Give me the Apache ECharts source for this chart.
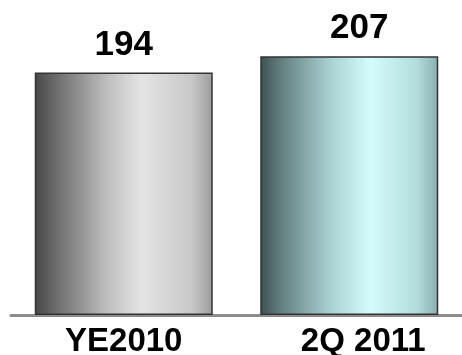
<!DOCTYPE html>
<html>
<head>
<meta charset="utf-8">
<script src="https://cdn.jsdelivr.net/npm/echarts@6/dist/echarts.min.js"></script>
<style>html,body{margin:0;padding:0;background:#fff}#c{width:462px;height:355px}</style>
</head>
<body>
<div id="c"></div>
<script>
var categories = ['YE2010', '2Q 2011'];
var values = [194, 207];

function grad(stops) {
  return new echarts.graphic.LinearGradient(0, 0, 1, 0, stops);
}
var fills = [
  grad([{offset:0,color:'#464646'},{offset:0.1,color:'#666666'},{offset:0.4,color:'#bdbdbd'},{offset:0.6,color:'#e4e4e4'},{offset:0.88,color:'#c8c8c8'},{offset:1,color:'#9c9c9c'}]),
  grad([{offset:0,color:'#3c5050'},{offset:0.1,color:'#5f7a7a'},{offset:0.4,color:'#abd3d4'},{offset:0.62,color:'#d4fcfd'},{offset:0.88,color:'#b2dcdc'},{offset:1,color:'#8aaeae'}])
];
var labelShift = [0, 10];
var catShift = [0, 28];

var chart = echarts.init(document.getElementById('c'));
chart.setOption({
  animation: false,
  grid: {left: 11, right: 0, top: 15, bottom: 40, containLabel: false, outerBoundsMode: 'none'},
  xAxis: {
    type: 'category',
    data: categories.map(function (c, i) {
      return {value: c, textStyle: {padding: [0, 0, 0, catShift[i]]}};
    }),
    axisLine: {show: true, lineStyle: {color: '#8c8c8c', width: 3}},
    axisTick: {show: false},
    axisLabel: {
      color: '#000', fontFamily: 'Liberation Sans, Arial, sans-serif',
      fontWeight: 'bold', fontSize: 33, margin: 10
    }
  },
  yAxis: {
    type: 'value', min: 0, max: 240,
    show: false, splitLine: {show: false}
  },
  series: [{
    type: 'bar',
    barWidth: 178,
    data: values.map(function (v, i) {
      return {value: v, itemStyle: {color: fills[i]}, label: {offset: [labelShift[i], 0]}};
    }),
    itemStyle: {borderColor: '#333333', borderWidth: 1.5},
    label: {
      show: true, position: 'top', distance: 10,
      color: '#000', fontFamily: 'Liberation Sans, Arial, sans-serif',
      fontWeight: 'bold', fontSize: 35
    }
  }]
});
</script>
</body>
</html>
